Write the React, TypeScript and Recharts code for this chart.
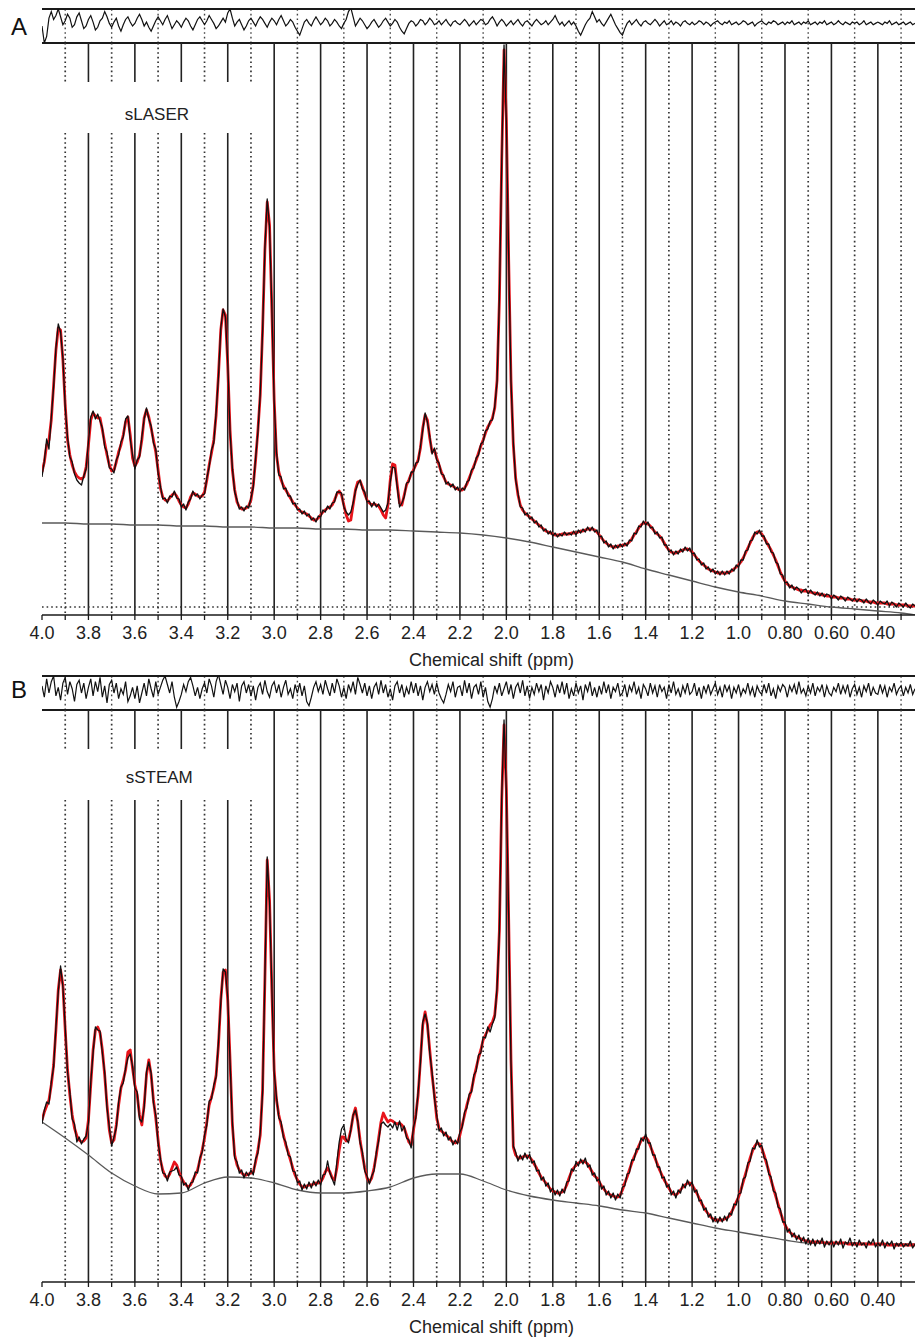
import React from 'react';
import { ComposedChart, Line, XAxis, YAxis, ReferenceLine, ReferenceArea } from 'recharts';

// Two LCModel-style fits (sLASER / sSTEAM): measured data, fit, baseline, residual.
// Amplitudes are in arbitrary units read off the figure.

const PPM_START = 4.0;
const PPM_END = 0.24;

// sampling positions of the spectra and residuals (0.01 ppm)
const buildGrid = (step: number) => {
  const out: number[] = [];
  for (let i = 0; ; i++) {
    const p = Math.round((PPM_START - step * i) * 100) / 100;
    if (p < PPM_END - 1e-9) break;
    out.push(p);
  }
  return out;
};
const spectrumPpm = buildGrid(0.01);

const baselinePpm = [
  4.0, 3.9, 3.8, 3.7, 3.6, 3.5, 3.4, 3.3, 3.2, 3.1, 3.0, 2.9, 2.8, 2.7, 2.6, 2.5, 2.4, 2.3, 2.2, 2.1,
  2.0, 1.9, 1.8, 1.7, 1.6, 1.5, 1.4, 1.3, 1.2, 1.1, 1.0, 0.9, 0.8, 0.7, 0.6, 0.5, 0.4, 0.3, 0.24,
];

const majorTicks = [4.0, 3.8, 3.6, 3.4, 3.2, 3.0, 2.8, 2.6, 2.4, 2.2, 2.0, 1.8, 1.6, 1.4, 1.2, 1.0, 0.8, 0.6, 0.4];
const majorLabels = ['4.0', '3.8', '3.6', '3.4', '3.2', '3.0', '2.8', '2.6', '2.4', '2.2', '2.0', '1.8', '1.6', '1.4', '1.2', '1.0', '0.80', '0.60', '0.40'];
const minorTicks = [3.9, 3.7, 3.5, 3.3, 3.1, 2.9, 2.7, 2.5, 2.3, 2.1, 1.9, 1.7, 1.5, 1.3, 1.1, 0.9, 0.7, 0.5, 0.3];

// ---- sLASER ----
const sLaserFit = [
  135,145,162,167,187,222,257,279,277,247,
  202,167,152,142,135,131,129,128,130,140,
  162,187,194,191,189,189,177,164,152,142,
  136,137,145,155,162,172,185,190,172,149,
  141,145,152,167,189,197,190,179,167,155,
  137,119,110,107,106,109,112,114,111,106,
  102,100,99,103,110,114,113,111,110,111,
  115,127,142,154,167,192,232,277,297,292,
  242,177,137,117,105,100,98,98,99,101,
  107,122,147,177,212,277,357,405,382,297,
  207,152,135,127,121,117,113,109,105,102,
  99,96,95,94,93,91,89,87,87,89,
  92,95,97,99,100,102,107,113,116,112,
  102,92,86,87,102,117,125,126,120,113,
  107,104,102,103,102,101,97,92,89,102,
  127,143,142,122,104,102,112,122,127,133,
  137,142,147,159,179,192,187,169,155,157,
  149,142,135,130,125,123,122,121,119,118,
  117,117,119,123,129,135,141,147,154,161,
  167,174,180,184,189,199,227,307,447,557,
  487,347,227,162,129,112,102,97,94,92,
  90,88,86,84,82,80,78,76,75,74,
  73,72,72,72,73,73,73,73,74,74,
  74,75,76,76,77,78,78,78,77,75,
  72,69,66,64,62,61,60,60,61,61,
  62,62,63,65,68,72,75,79,82,84,
  84,83,81,78,75,73,71,68,64,60,
  57,55,54,54,55,56,57,58,58,57,
  55,52,49,46,44,42,40,38,37,36,
  35,34,34,34,34,34,35,36,38,40,
  42,45,49,54,59,64,69,73,75,75,
  73,69,65,61,57,52,47,41,35,30,
  26,23,21,20,19,18,17,17,16,16,
  15,15,14,14,13,13,12,12,11,11,
  10,10,10,9,9,9,8,8,8,7,
  7,7,7,6,6,6,5,5,5,4,
  4,4,4,4,3,3,3,3,2,2,
  2,2,2,1,1,1,1,
];

const sLaserData = [
  130,146,168,158,190,220,259,283,275,249,
  200,170,150,145,133,127,124,122,131,138,
  165,190,196,188,193,186,179,160,155,139,
  138,134,147,152,165,170,188,191,168,152,
  138,147,150,170,188,199,188,181,164,158,
  134,121,108,109,104,111,110,116,109,108,
  100,103,97,105,108,116,111,113,108,112,
  113,129,140,157,164,195,230,279,298,290,
  245,174,139,115,107,98,100,96,101,99,
  109,120,149,175,214,275,359,408,380,299,
  205,155,132,130,118,119,111,111,103,104,
  97,98,93,96,91,93,87,89,85,91,
  90,97,95,101,98,104,105,115,115,114,
  100,95,92,95,104,116,123,127,118,115,
  105,106,100,105,100,103,99,95,97,104,
  125,140,139,120,100,104,110,124,125,135,
  135,144,145,161,177,194,185,171,153,159,
  147,144,133,132,123,125,120,123,117,120,
  115,119,117,125,127,137,139,149,152,163,
  165,176,178,186,187,201,225,309,445,562,
  485,349,225,165,127,114,100,99,92,94,
  88,90,84,86,80,82,76,78,73,76,
  71,74,70,73,71,75,72,74,72,76,
  72,77,74,78,75,80,76,80,75,77,
  70,71,64,66,60,63,58,62,59,63,
  60,64,61,67,66,74,73,81,80,86,
  82,85,79,80,73,75,69,70,62,62,
  55,57,52,56,53,58,55,60,56,59,
  53,54,47,48,42,44,38,40,35,38,
  33,36,32,36,32,36,33,38,36,42,
  40,47,47,56,57,66,67,75,73,77,
  71,71,63,63,55,54,45,43,33,32,
  24,25,19,22,17,20,18,14,17,18,
  13,17,14,12,15,11,14,10,13,12,
  8,12,10,7,11,9,6,10,8,6,
  9,5,8,7,4,8,5,3,7,5,
  2,6,4,3,6,1,5,3,0,4,
  2,0,4,1,-1,3,1,
];

const sLaserBaseline = [
  84, 84, 83, 83, 82, 82, 81, 81, 80, 80, 79, 79, 78, 78, 77, 77, 76, 75, 74, 72,
  69, 65, 60, 55, 50, 45, 38, 32, 26, 20, 15, 11, 6, 3, 0, -2, -4, -6, -8,
];

const sLaserResidual = [
  -2,-15,-10,4,9,3,6,11,5,-1,
  2,7,4,-3,-1,5,8,2,-4,-2,
  3,6,1,-5,-3,2,4,9,5,0,
  -3,1,4,-2,-6,-1,3,5,1,-2,
  0,4,7,3,-2,1,-3,-6,-2,2,
  5,2,-1,3,6,1,-4,-1,2,0,
  -3,1,4,2,-2,-5,-1,3,5,2,
  -1,2,6,3,0,-4,-2,1,4,1,
  8,11,4,-2,1,3,-1,-5,-2,2,
  4,1,-2,2,5,3,0,-3,1,4,
  2,-1,3,6,2,-2,0,3,1,-3,
  -6,-9,-4,1,3,0,-2,2,5,2,
  -1,1,4,2,-2,0,3,1,-2,-4,
  0,3,9,12,5,-2,1,4,2,-1,
  -4,-2,1,3,0,-3,-1,2,4,1,
  -2,0,3,1,-3,-6,-8,-4,0,2,
  1,-2,0,3,2,-1,1,4,2,-1,
  0,2,-1,1,3,0,-2,1,2,0,
  -1,1,3,1,-2,0,2,-1,1,3,
  2,-1,0,3,5,2,-2,1,3,1,
  -2,0,2,-1,1,3,0,-2,1,2,
  0,-2,1,3,1,-1,0,2,-1,1,
  3,6,2,-1,1,-2,0,2,-1,1,
  -2,-6,-9,-5,-1,2,4,9,5,1,
  3,0,-2,1,4,7,3,-1,-4,-7,
  -9,-4,0,2,-1,1,3,0,-2,1,
  2,0,-1,1,3,1,-2,0,2,-1,
  0,2,-1,1,0,-2,1,2,0,-1,
  1,-1,0,2,1,-1,1,0,-2,0,
  1,2,0,-1,1,0,2,-1,0,1,
  -1,0,2,1,-1,0,1,-2,0,1,
  2,0,-1,1,0,2,1,-1,0,1,
  -1,1,0,2,-1,0,1,-1,1,0,
  2,-1,0,1,-1,1,0,2,-1,0,
  1,-1,0,2,0,-1,1,0,-1,1,
  0,1,-1,0,2,-1,0,1,-1,0,
  1,0,-1,1,0,2,-1,0,1,-1,
  0,1,-1,0,1,-1,0,
];

// ---- sSTEAM ----
const sSteamFit = [
  162,170,176,182,197,217,252,292,312,297,
  252,212,187,167,154,146,142,140,141,144,
  162,197,232,252,255,249,232,207,177,152,
  139,142,157,177,194,202,212,230,232,214,
  197,187,167,157,177,207,222,207,182,164,
  142,122,112,106,104,108,114,120,117,110,
  104,100,97,95,97,102,107,112,122,132,
  144,160,177,185,194,207,237,282,310,312,
  282,222,157,127,117,112,109,107,107,108,
  109,110,120,132,147,192,302,422,382,292,
  212,182,167,157,147,137,130,122,114,107,
  102,98,95,95,96,97,97,98,99,99,
  100,104,110,114,110,104,102,114,132,145,
  145,141,142,152,166,174,160,142,127,114,
  104,100,104,114,127,144,160,169,164,160,
  162,161,159,158,159,157,154,147,140,137,
  152,167,187,222,257,270,257,232,207,187,
  164,154,151,149,147,145,142,140,139,140,
  147,157,167,177,185,192,204,214,224,232,
  242,247,252,257,260,267,292,352,482,557,
  492,362,222,135,127,124,124,125,126,126,
  125,122,118,114,109,105,102,99,96,93,
  91,90,89,89,90,92,97,104,110,114,
  117,119,120,121,120,118,114,110,106,104,
  100,96,93,90,88,87,86,85,85,87,
  92,99,105,112,119,125,130,136,141,144,
  145,142,136,130,124,118,112,107,102,98,
  94,90,88,87,89,92,95,97,99,99,
  97,93,89,84,79,75,71,68,65,63,
  62,62,62,62,63,64,66,70,75,80,
  85,92,100,108,116,124,131,136,139,138,
  134,127,119,111,102,94,86,78,70,63,
  57,53,50,48,46,45,44,43,42,41,
  41,40,40,40,40,40,40,39,39,39,
  39,39,39,39,39,39,39,38,38,38,
  38,38,38,38,38,38,38,38,38,38,
  38,38,38,38,37,37,37,37,37,37,
  37,37,37,37,37,37,37,
];

const sSteamData = [
  158,172,180,178,200,215,255,290,316,295,
  255,210,190,163,158,140,145,138,143,146,
  159,200,229,255,252,251,229,210,174,155,
  136,145,154,180,195,199,214,224,228,216,
  194,190,163,160,174,210,220,209,179,167,
  139,124,109,108,101,110,111,112,115,107,
  106,97,99,92,99,100,110,109,124,130,
  147,157,181,183,197,205,240,279,313,310,
  285,219,160,124,120,109,112,104,110,106,
  112,107,123,129,150,189,305,425,380,295,
  209,185,164,160,144,140,127,125,111,110,
  99,101,92,98,93,100,94,101,96,102,
  97,107,108,121,109,103,97,120,140,153,
  157,143,139,152,167,172,161,139,130,111,
  106,98,106,111,130,141,158,160,157,155,
  158,154,160,152,161,151,156,144,142,134,
  155,164,190,219,260,268,259,229,210,184,
  167,151,154,146,150,142,145,137,142,138,
  150,155,170,174,188,190,207,211,227,229,
  245,244,255,250,258,264,295,350,485,562,
  490,365,219,136,130,121,127,122,129,123,
  128,119,121,111,112,102,105,96,99,90,
  94,87,92,86,93,89,100,101,113,111,
  120,116,123,118,124,115,117,107,109,101,
  103,93,96,87,91,84,89,82,88,84,
  95,96,108,109,122,122,133,133,144,141,
  148,139,139,127,127,115,115,104,105,95,
  97,87,91,84,92,89,98,94,102,96,
  100,90,92,81,82,72,74,65,68,60,
  65,59,65,60,66,61,69,67,78,77,
  88,89,103,105,119,121,134,133,142,135,
  137,124,122,108,105,91,89,75,73,60,
  60,50,53,45,49,42,47,40,45,38,
  44,37,43,36,42,38,44,35,41,37,
  42,35,41,37,43,34,40,38,44,36,
  40,35,42,37,39,34,41,38,43,35,
  39,36,42,34,40,37,41,33,39,36,
  40,35,38,36,41,34,38,
];

const sSteamBaseline = [
  160, 144, 127, 109, 96, 88, 89, 99, 105, 104, 99, 92, 89, 89, 91, 95, 104, 108, 108, 101,
  92, 86, 82, 79, 76, 72, 69, 64, 59, 54, 50, 46, 42, 39, 39, 39, 38, 38, 38,
];

const sSteamResidual = [
  3,-5,8,-2,6,10,-4,2,-7,5,
  9,-3,6,1,-8,4,7,-2,5,-6,
  2,8,-4,6,-1,9,-5,3,-9,4,
  7,-2,5,-6,1,-3,6,-8,-4,2,
  -6,3,-9,-2,5,-4,8,1,-5,6,
  -3,2,7,10,4,-2,6,-5,-12,-8,
  -3,4,-1,6,9,3,-4,2,-6,1,
  5,-2,8,3,-5,6,11,4,-3,7,
  2,-6,4,-1,5,-8,3,6,-2,4,
  -4,3,-7,2,5,-3,7,-1,-5,3,
  6,-2,4,-5,2,7,-3,1,-6,4,
  -2,5,-4,3,-8,-11,-5,2,6,-1,
  4,-3,7,1,-4,5,-2,8,3,-5,
  2,-6,4,-1,6,-3,9,4,-2,5,
  -4,3,-6,2,5,-3,7,-2,4,-5,
  1,-7,3,6,-2,4,-5,2,-3,6,
  -2,5,-4,3,-7,2,6,-1,4,-3,
  5,-2,-6,-9,-3,4,-1,6,-5,2,
  3,-4,7,-2,5,-6,2,4,-3,6,
  -5,2,-8,-12,-6,3,-2,5,-4,1,
  6,-3,4,-6,2,5,-2,7,-4,3,
  -6,2,-3,5,-1,4,-7,3,-2,6,
  2,-5,4,-2,6,-3,5,-6,1,-4,
  5,-2,3,-7,4,-1,6,-4,2,-5,
  3,-3,6,-2,4,-6,2,-1,5,-4,
  -2,4,-5,3,-1,6,-3,2,-6,4,
  1,-4,5,-2,3,-5,4,-1,2,-6,
  4,-2,6,-3,1,-5,3,-2,5,-3,
  -1,5,-4,2,-6,3,-2,4,-3,1,
  5,-3,2,-5,4,-1,3,-6,2,-2,
  4,-4,1,-2,5,-3,2,-5,3,-1,
  -3,4,-2,5,-4,1,-6,3,-1,4,
  2,-5,3,-1,4,-3,6,-2,1,-4,
  3,-2,5,-4,2,-1,4,-5,3,-2,
  -4,2,-1,5,-3,3,-2,4,-5,1,
  4,-3,2,-5,3,-1,5,-4,2,-2,
  -3,4,-2,3,-5,2,-1,5,-3,1,
  3,-4,2,-2,4,-3,1,
];

const FONT = '"Liberation Sans", Arial, Helvetica, sans-serif';
const CHART_W = 915;
const PLOT_LEFT = 42;
const MAIN_H = 572;
const AXIS_H = 60;
const INK = '#1a1a1a';

const toPoints = (xs: number[], ys: number[]) => ys.map((v, i) => ({ ppm: xs[i], v }));

const PpmTick = (props: any) => {
  const { x, y, payload } = props;
  const idx = majorTicks.findIndex((t) => Math.abs(t - payload.value) < 1e-6);
  if (idx < 0) return <g />;
  return (
    <text x={x} y={y} dy={17} textAnchor="middle" fontSize={18} fill="#222" fontFamily={FONT}>
      {majorLabels[idx]}
    </text>
  );
};

const gridLines = [
  ...majorTicks.filter((t) => t < 3.95).map((ppm) => ({ ppm, major: true })),
  ...minorTicks.map((ppm) => ({ ppm, major: false })),
];

const majorStyle = { stroke: '#222', strokeWidth: 1.6 };
const minorStyle = { stroke: '#333', strokeWidth: 1.7, strokeDasharray: '1.6 3' };

interface PanelConfig {
  top: number;
  letter: string;
  letterBaseline: number;
  method: string;
  fit: number[];
  data: number[];
  baseline: number[];
  residual: number[];
  mainDomain: [number, number];
  resDomain: [number, number];
  gap: [number, number];
  labelBand: [number, number];
  labelPpm: [number, number];
  zeroLine: boolean;
}

const panels: PanelConfig[] = [
  {
    top: 0,
    letter: 'A',
    letterBaseline: 35,
    method: 'sLASER',
    fit: sLaserFit,
    data: sLaserData,
    baseline: sLaserBaseline,
    residual: sLaserResidual,
    mainDomain: [-8, 564],
    resDomain: [-15, 11],
    gap: [525, 474],
    labelBand: [462, 525],
    labelPpm: [3.95, 3.06],
    zeroLine: true,
  },
  {
    top: 667,
    letter: 'B',
    letterBaseline: 31,
    method: 'sSTEAM',
    fit: sSteamFit,
    data: sSteamData,
    baseline: sSteamBaseline,
    residual: sSteamResidual,
    mainDomain: [0, 572],
    resDomain: [-14, 10],
    gap: [533, 482],
    labelBand: [478, 532],
    labelPpm: [3.94, 3.05],
    zeroLine: false,
  },
];

function Panel({ cfg }: { cfg: PanelConfig }) {
  const [yMin, yMax] = cfg.mainDomain;
  const [rMin, rMax] = cfg.resDomain;

  return (
    <div style={{ position: 'absolute', left: 0, top: cfg.top, width: CHART_W }}>
      {/* panel letter */}
      <svg width={40} height={50} style={{ position: 'absolute', left: 0, top: 0 }}>
        <text x={11} y={cfg.letterBaseline} fontSize={24} fill="#111" fontFamily={FONT}>
          {cfg.letter}
        </text>
      </svg>

      {/* residual strip */}
      <div style={{ position: 'absolute', left: 0, top: 7 }}>
        <ComposedChart width={CHART_W} height={38} margin={{ top: 2, right: 0, bottom: 2, left: PLOT_LEFT }}>
          <XAxis type="number" dataKey="ppm" domain={[PPM_END, PPM_START]} reversed allowDataOverflow hide />
          <YAxis
            type="number"
            width={0}
            domain={[rMin, rMax]}
            allowDataOverflow
            ticks={[0]}
            tickSize={6}
            tickFormatter={() => ''}
            axisLine={{ stroke: INK, strokeWidth: 1.6 }}
            tickLine={{ stroke: INK, strokeWidth: 1.4 }}
          />
          {minorTicks.map((ppm) => (
            <ReferenceLine key={`r${ppm}`} x={ppm} stroke="#444" strokeWidth={1.4} strokeDasharray="1.6 3" />
          ))}
          <ReferenceLine y={rMax} stroke={INK} strokeWidth={1.8} />
          <ReferenceLine y={rMin} stroke={INK} strokeWidth={2} />
          <Line
            data={toPoints(spectrumPpm, cfg.residual)}
            dataKey="v"
            stroke="#111"
            strokeWidth={1.2}
            dot={false}
            activeDot={false}
            isAnimationActive={false}
          />
        </ComposedChart>
      </div>

      {/* main spectrum */}
      <div style={{ position: 'absolute', left: 0, top: 43 }}>
        <ComposedChart width={CHART_W} height={MAIN_H + AXIS_H} margin={{ top: 0, right: 0, bottom: 0, left: PLOT_LEFT }}>
          <XAxis
            type="number"
            dataKey="ppm"
            domain={[PPM_END, PPM_START]}
            reversed
            allowDataOverflow
            ticks={[...majorTicks, ...minorTicks].sort((a, b) => b - a)}
            interval={0}
            height={AXIS_H}
            tickSize={5}
            axisLine={{ stroke: INK, strokeWidth: 1.6 }}
            tickLine={{ stroke: INK, strokeWidth: 1.3 }}
            tick={<PpmTick />}
            label={(p: any) => {
              const vb = p.viewBox || { x: PLOT_LEFT, y: MAIN_H, width: CHART_W - PLOT_LEFT };
              return (
                <text x={vb.x + vb.width / 2 + 13} y={vb.y + 51} textAnchor="middle" fontSize={18} fill="#222" fontFamily={FONT}>
                  Chemical shift (ppm)
                </text>
              );
            }}
          />
          <YAxis
            type="number"
            width={0}
            domain={[yMin, yMax]}
            allowDataOverflow
            ticks={cfg.zeroLine ? [0] : undefined}
            tick={cfg.zeroLine ? undefined : false}
            tickLine={cfg.zeroLine ? { stroke: INK, strokeWidth: 1.4 } : false}
            tickSize={6}
            tickFormatter={() => ''}
            axisLine={{ stroke: INK, strokeWidth: 1.6 }}
          />

          {gridLines.map((g) => {
            const style = g.major ? majorStyle : minorStyle;
            if (g.ppm > 3.05) {
              return (
                <React.Fragment key={`g${g.ppm}`}>
                  <ReferenceLine segment={[{ x: g.ppm, y: yMax }, { x: g.ppm, y: cfg.gap[0] }]} {...style} />
                  <ReferenceLine segment={[{ x: g.ppm, y: cfg.gap[1] }, { x: g.ppm, y: yMin }]} {...style} />
                </React.Fragment>
              );
            }
            return <ReferenceLine key={`g${g.ppm}`} x={g.ppm} {...style} />;
          })}
          {cfg.zeroLine && <ReferenceLine y={0} stroke="#333" strokeWidth={1.6} strokeDasharray="1.6 3" />}

          <ReferenceArea
            x1={cfg.labelPpm[0]}
            x2={cfg.labelPpm[1]}
            y1={cfg.labelBand[0]}
            y2={cfg.labelBand[1]}
            fill="none"
            fillOpacity={0}
            stroke="none"
            label={{ value: cfg.method, position: 'center', fontSize: 17, fill: '#222' }}
          />

          <Line
            data={toPoints(baselinePpm, cfg.baseline)}
            dataKey="v"
            type="monotone"
            stroke="#5a5a5a"
            strokeWidth={1.3}
            dot={false}
            activeDot={false}
            isAnimationActive={false}
          />
          <Line
            data={toPoints(spectrumPpm, cfg.fit)}
            dataKey="v"
            stroke="#e8141b"
            strokeWidth={2.8}
            strokeLinejoin="round"
            dot={false}
            activeDot={false}
            isAnimationActive={false}
          />
          <Line
            data={toPoints(spectrumPpm, cfg.data)}
            dataKey="v"
            stroke="#111"
            strokeWidth={1.3}
            strokeLinejoin="round"
            dot={false}
            activeDot={false}
            isAnimationActive={false}
          />
        </ComposedChart>
      </div>
    </div>
  );
}

export default function App() {
  return (
    <div style={{ position: 'relative', width: CHART_W, height: 1343, background: '#fff', fontFamily: FONT, overflow: 'hidden' }}>
      <style>{'body{margin:0;background:#fff;}'}</style>
      {panels.map((cfg) => (
        <Panel key={cfg.letter} cfg={cfg} />
      ))}
    </div>
  );
}
